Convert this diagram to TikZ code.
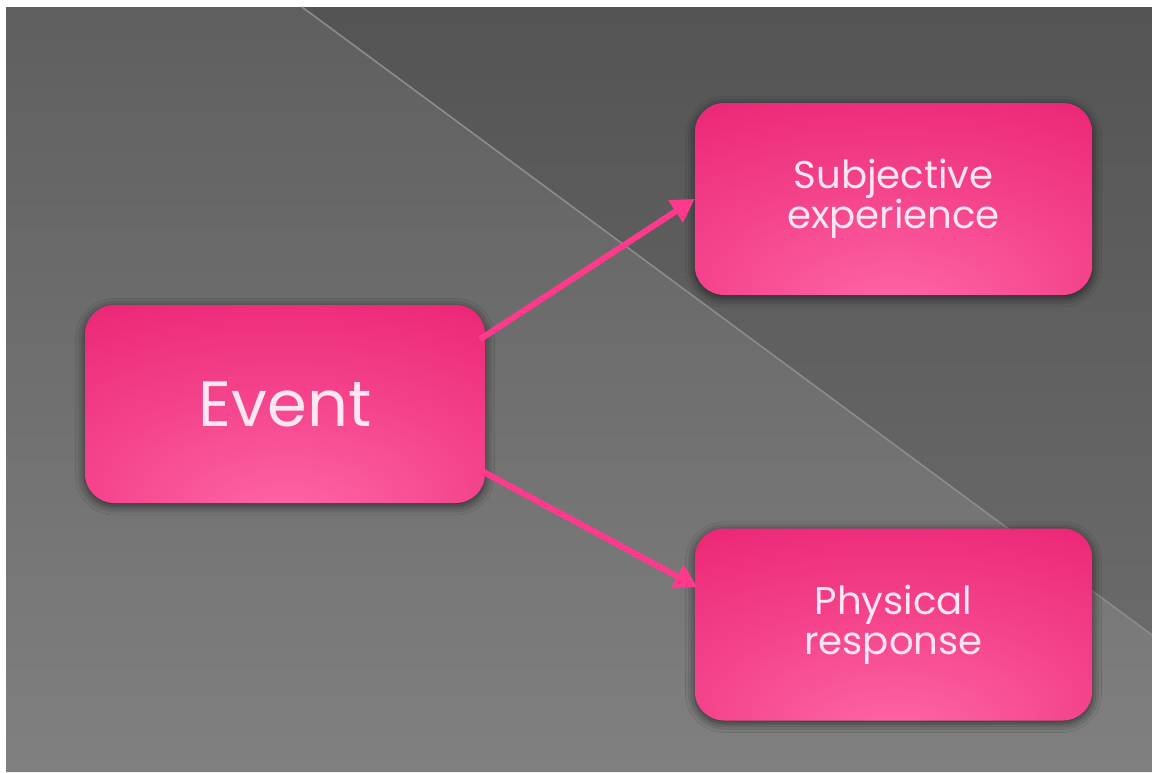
\documentclass[tikz,border=0pt]{standalone}
\usepackage{fontspec}
\setmainfont{Poppins}
\usetikzlibrary{arrows.meta,shadows.blur}
\definecolor{bgtop}{HTML}{5F5F5F}
\definecolor{bgbot}{HTML}{808080}
\definecolor{trtop}{HTML}{545454}
\definecolor{trbot}{HTML}{6A6A6A}
\definecolor{diagline}{HTML}{8C8C8C}
\definecolor{pinkdark}{HTML}{DC0C66}
\definecolor{pinkmid}{HTML}{EC2877}
\definecolor{pinklight}{HTML}{FF68A8}
\definecolor{arrowpink}{HTML}{FF3A8C}
\definecolor{textpink}{HTML}{FFE6F1}
\pgfdeclareradialshading{boxshade}{\pgfpoint{0bp}{-30bp}}{%
  color(0bp)=(pinklight); color(25bp)=(pinkmid!60!pinklight); color(45bp)=(pinkmid); color(65bp)=(pinkmid!50!pinkdark); color(85bp)=(pinkdark)}
\tikzset{
  pinkbox/.style={rounded corners=22pt, shading=boxshade, text=textpink,
    align=center, inner sep=0pt,
    blur shadow={shadow xshift=0pt, shadow yshift=-2pt, shadow blur radius=7pt, shadow opacity=65}},
  bigbox/.style={pinkbox, minimum width=300pt, minimum height=148.5pt,
    font=\fontsize{48}{52}\selectfont},
  smallbox/.style={pinkbox, minimum width=298pt, minimum height=144pt,
    font=\fontsize{29}{30}\selectfont},
  conn/.style={draw=arrowpink, line width=4.5pt,
    -{Triangle[length=17pt,width=19pt]}}
}
\begin{document}
\begin{tikzpicture}[x=0.75pt,y=-0.75pt]
\useasboundingbox (0,0) rectangle (1152,772);
\fill[white] (0,0) rectangle (1152,772);
\shade[top color=bgtop, bottom color=bgbot]
  (6,7) -- (302,7) -- (1152,635) -- (1152,772) -- (6,772) -- cycle;
\shade[top color=trtop, bottom color=trbot]
  (302,7) -- (1152,7) -- (1152,635) -- cycle;
\draw[diagline, line width=1.2pt] (302,7) -- (1152,635);

\node[bigbox] (event) at (285,404) {Event};
\node[smallbox] (subj) at (893.5,199) {Subjective\\experience};
\node[smallbox] (phys) at (893.5,624.5) {Physical\\response};

\draw[conn] ([xshift=-4pt,yshift=48.5pt]event.east) -- ([yshift=0pt]subj.west);
\draw[conn] ([xshift=-4pt,yshift=-49.5pt]event.east) -- ([xshift=2pt,yshift=28pt]phys.west);
\end{tikzpicture}
\end{document}
